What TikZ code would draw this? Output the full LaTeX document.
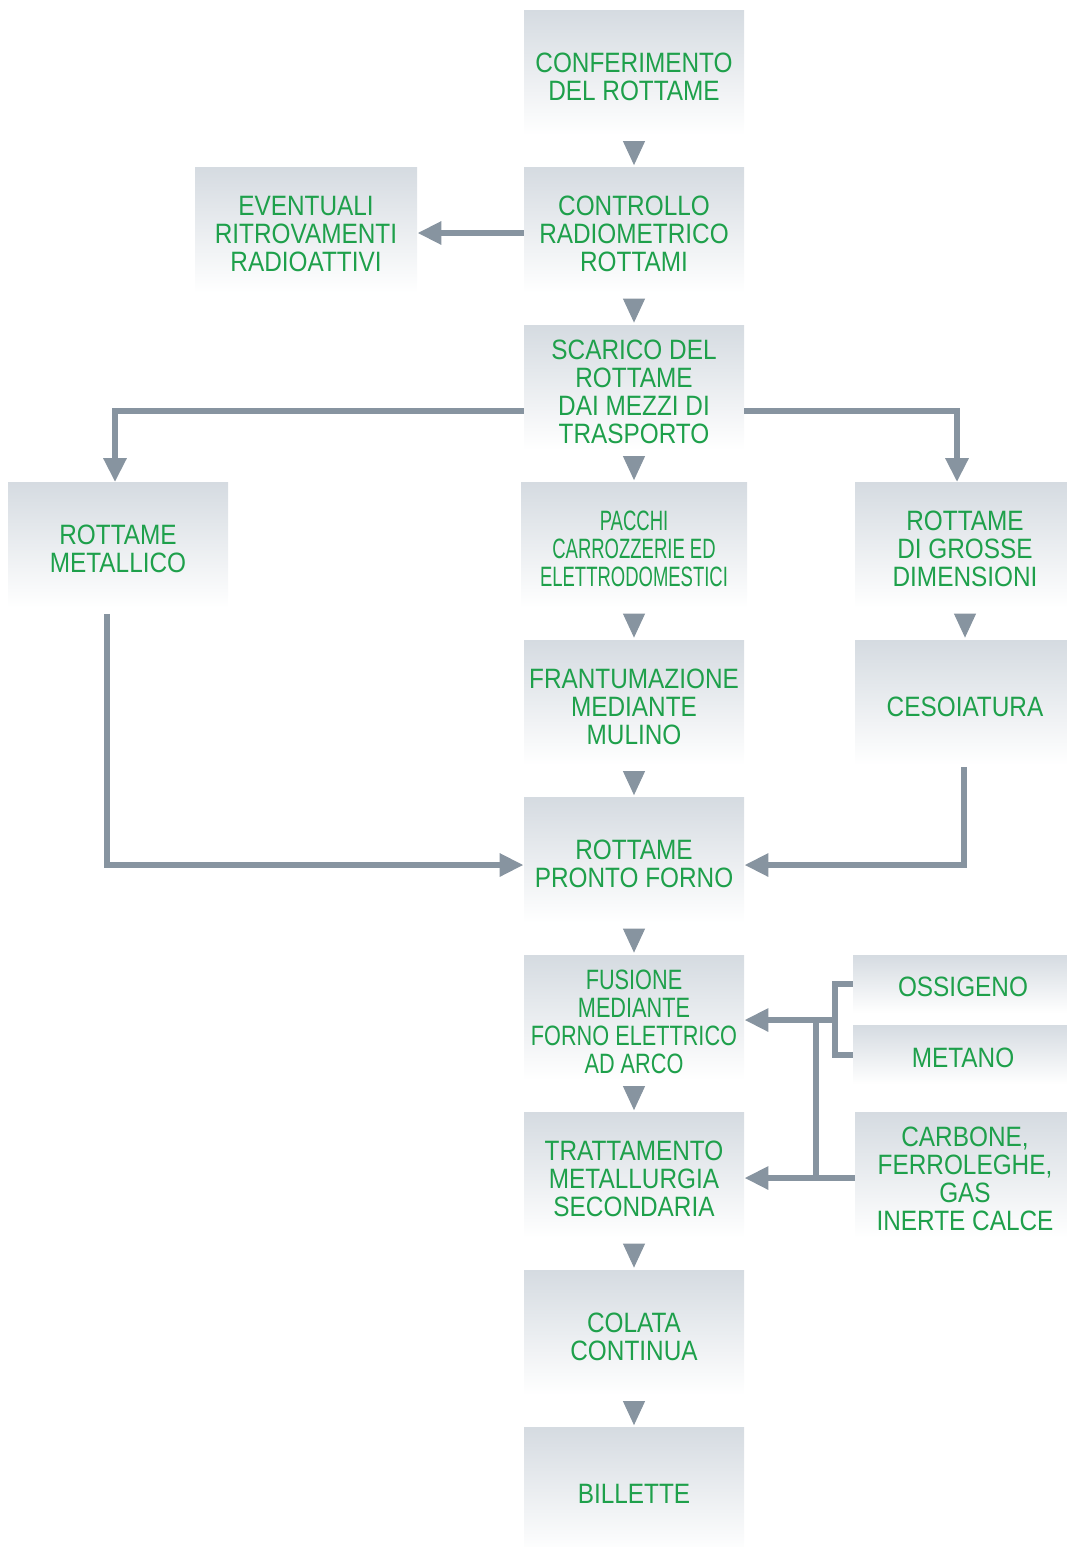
\documentclass[tikz,border=0pt]{standalone}
\usepackage{fontspec}
\setmainfont{Liberation Sans}[FakeStretch=0.87]
\newfontfamily\narrowfont{Liberation Sans}[FakeStretch=0.66]
\newfontfamily\tightfont{Liberation Sans}[FakeStretch=0.775]
\usepackage{tikz}
\usetikzlibrary{math,arrows.meta}
\definecolor{FlowGreen}{RGB}{30,160,75}
\definecolor{FlowGrey}{RGB}{135,148,160}
\definecolor{BoxTop}{RGB}{213,219,225}
\tikzset{%
  box/.style={top color=BoxTop, bottom color=white, inner sep=0pt,
    minimum width=110pt, minimum height=62.5pt},
  boxtext/.style={text=FlowGreen, align=center, inner sep=0pt, yshift=-2pt,
    font=\fontsize{14}{14}\selectfont},
  flow/.style={draw=FlowGrey, line width=3pt, -{Triangle[width=11pt,length=12pt]}},
  link/.style={draw=FlowGrey, line width=3pt},
  drop/.style={draw=FlowGrey, line width=0.5pt, shorten <=3.25pt, shorten >=1pt,
    -{Triangle[width=11pt,length=12pt]}}
}

\begin{document}
\begin{tikzpicture}[x=0.5pt,y=-0.5pt]
    \tikzmath{
      \cx=634; % main column
      \lx=118; % left column
      \rx=965; % right column (cut by the page edge)
      \y=72.5; % first row
      \dy=157.5; % row step
    }
    \useasboundingbox (0,0) rectangle (1066,1547);
    % main column
    \node[box,label={[boxtext]center:CONFERIMENTO\\DEL ROTTAME}] (conf) at (\cx,\y) {};
    \node[box,label={[boxtext]center:CONTROLLO\\RADIOMETRICO\\ROTTAMI}] (ctrl) at (\cx,\y+\dy) {};
    \node[box,label={[boxtext]center:SCARICO DEL\\ROTTAME\\DAI MEZZI DI\\TRASPORTO}] (scar)
      at (\cx,\y+2*\dy) {};
    \node[box,minimum width=113pt,label={[boxtext,font=\fontsize{14}{14}\narrowfont]center:%
      PACCHI\\CARROZZERIE ED\\ELETTRODOMESTICI}] (pacc) at (\cx,\y+3*\dy) {};
    \node[box,label={[boxtext]center:FRANTUMAZIONE\\MEDIANTE\\MULINO}] (frant) at (\cx,\y+4*\dy) {};
    \node[box,label={[boxtext]center:ROTTAME\\PRONTO FORNO}] (forno) at (\cx,\y+5*\dy) {};
    \node[box,label={[boxtext,font=\fontsize{14}{14}\tightfont]center:%
      FUSIONE\\MEDIANTE\\FORNO ELETTRICO\\AD ARCO}] (fus) at (\cx,\y+6*\dy) {};
    \node[box,label={[boxtext]center:TRATTAMENTO\\METALLURGIA\\SECONDARIA}] (tratt) at (\cx,\y+7*\dy) {};
    \node[box,label={[boxtext]center:COLATA\\CONTINUA}] (col) at (\cx,\y+8*\dy) {};
    \node[box,label={[boxtext]center:BILLETTE}] (bill) at (\cx,\y+9*\dy) {};
    % side boxes
    \node[box,minimum width=111pt,label={[boxtext]center:EVENTUALI\\RITROVAMENTI\\RADIOATTIVI}]
      (event) at (306,\y+\dy) {};
    \node[box,label={[boxtext]center:ROTTAME\\METALLICO}] (metal) at (\lx,\y+3*\dy) {};
    \node[box,label={[boxtext]center:ROTTAME\\DI GROSSE\\DIMENSIONI}] (gros) at (\rx,\y+3*\dy) {};
    \node[box,label={[boxtext]center:CESOIATURA}] (ces) at (\rx,\y+4*\dy) {};
    \node[box,minimum height=29pt,label={[boxtext,yshift=0.5pt]center:OSSIGENO}] (oss) at (963,984) {};
    \node[box,minimum height=29.5pt,label={[boxtext,yshift=0.5pt]center:METANO}] (met) at (963,1054.5) {};
    \node[box,label={[boxtext]center:CARBONE,\\FERROLEGHE,\\GAS\\INERTE CALCE}] (carb)
      at (\rx,\y+7*\dy) {};
    % main flow
    \foreach \a/\b in {conf/ctrl, ctrl/scar, scar/pacc, pacc/frant, frant/forno,
      forno/fus, fus/tratt, tratt/col, col/bill, gros/ces} {
      \draw[drop] (\a.south) -- (\b.north);
    }
    % branches
    \draw[flow] ([yshift=-1.5pt]ctrl.west) -- ([yshift=-1.5pt]event.east);
    \draw[flow] ([yshift=-11.75pt]scar.west) -| ([xshift=-1.5pt]metal.north);
    \draw[flow] ([yshift=-11.75pt]scar.east) -| ([xshift=-4pt]gros.north);
    \draw[flow] ([xshift=-5.5pt,yshift=-3pt]metal.south) |- ([yshift=-2.5pt]forno.west);
    \draw[flow] ([xshift=-0.5pt,yshift=-1pt]ces.south) |- ([yshift=-2.5pt]forno.east);
    % additions
    \coordinate (jn) at (835,1020);
    \coordinate (jt) at (816,1020);
    \draw[link] (oss.west) -- (oss.west -| jn) |- (met.west);
    \draw[flow] (jn) -- (fus.east |- jn);
    \draw[link] (jt) -- ([yshift=-1.5pt]jt |- carb.west);
    \draw[flow] ([yshift=-1.5pt]carb.west) -- ([yshift=-1.5pt]tratt.east);
\end{tikzpicture}
\end{document}
